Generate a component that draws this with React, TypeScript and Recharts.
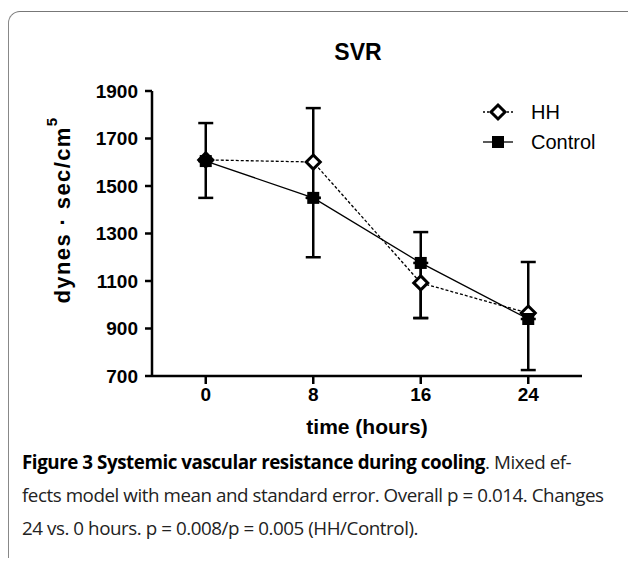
import { ErrorBar, Line, LineChart, XAxis, YAxis } from "recharts";

const hours = [0, 8, 16, 24];
const hhMean = [1610, 1601, 1092, 965];
// [below, above] as drawn in the figure
const hhErr = [[0, 155], [151, 227], [148, 214], [0, 215]];
const controlMean = [1605, 1450, 1176, 940];
const controlErr = [[155, 0], [250, 0], [232, 0], [215, 0]];
const xTicks = [0, 8, 16, 24];
const yTicks = [700, 900, 1100, 1300, 1500, 1700, 1900];

const data = hours.map((h, i) => ({
  h,
  hh: hhMean[i],
  hhErr: hhErr[i],
  control: controlMean[i],
  controlErr: controlErr[i],
}));

const FONT = '"Liberation Sans", Arial, sans-serif';

function Diamond(props: any) {
  const { cx, cy } = props;
  if (cx == null || cy == null) return null;
  const r = 7;
  return (
    <polygon
      points={`${cx},${cy - r} ${cx + r},${cy} ${cx},${cy + r} ${cx - r},${cy}`}
      fill="#fff"
      stroke="#000"
      strokeWidth={3}
    />
  );
}

function Square(props: any) {
  const { cx, cy } = props;
  if (cx == null || cy == null) return null;
  return <rect x={cx - 6} y={cy - 6} width={12} height={12} fill="#000" />;
}

function LegendBox() {
  const rows = [
    { name: "HH", dash: "2 2", icon: "diamond" },
    { name: "Control", dash: undefined, icon: "square" },
  ];
  return (
    <div style={{ fontFamily: FONT, fontSize: 20, color: "#000" }}>
      {rows.map((r) => (
        <div key={r.name} style={{ display: "flex", alignItems: "center", height: 30 }}>
          <svg width={32} height={20} style={{ marginRight: 17 }}>
            <line x1={1} y1={10} x2={31} y2={10} stroke="#000" strokeWidth={1.3} strokeDasharray={r.dash} />
            {r.icon === "diamond" ? (
              <polygon points="16,3 23,10 16,17 9,10" fill="#fff" stroke="#000" strokeWidth={3} />
            ) : (
              <rect x={10} y={4} width={12} height={12} fill="#000" />
            )}
          </svg>
          <span>{r.name}</span>
        </div>
      ))}
    </div>
  );
}

function YLabel() {
  const cx = 62;
  const cy = 210;
  return (
    <text
      x={cx}
      y={cy}
      transform={`rotate(-90, ${cx}, ${cy})`}
      textAnchor="middle"
      dominantBaseline="central"
      fontFamily={FONT}
      fontWeight="bold"
      fontSize={22}
      letterSpacing={1.4}
      fill="#000"
    >
      dynes · sec/cm
      <tspan dy={-11} fontSize={15}>5</tspan>
    </text>
  );
}

export default function App() {
  const tickStyle = { fill: "#000", fontSize: 19, fontWeight: "bold", fontFamily: FONT };
  return (
    <div
      style={{
        position: "absolute",
        left: 0,
        top: 0,
        width: 628,
        height: 562,
        background: "#fff",
        overflow: "hidden",
        fontFamily: FONT,
      }}
    >
      <div
        style={{
          position: "absolute",
          left: 8,
          top: 11,
          width: 640,
          height: 546,
          borderTop: "1.5px solid #777",
          borderLeft: "1.5px solid #888",
          borderTopLeftRadius: 12,
        }}
      />
      <div
        style={{
          position: "absolute",
          left: 258,
          top: 39,
          width: 200,
          textAlign: "center",
          fontSize: 23,
          fontWeight: "bold",
        }}
      >
        SVR
      </div>
      <div style={{ position: "absolute", left: 482, top: 97 }}>
        <LegendBox />
      </div>
      <div style={{ position: "absolute", left: 0, top: 0 }}>
        <LineChart
          width={628}
          height={562}
          data={data}
          margin={{ top: 91, right: 46, bottom: 126, left: 0 }}
        >
          <XAxis
            dataKey="h"
            type="number"
            domain={[-4, 28]}
            ticks={xTicks}
            allowDataOverflow
            axisLine={{ stroke: "#000", strokeWidth: 2.5 }}
            tickLine={{ stroke: "#000", strokeWidth: 2.5 }}
            tickSize={8}
            tickMargin={4}
            tick={tickStyle}
            height={60}
            label={{
              value: "time (hours)",
              position: "insideBottom",
              offset: 0,
              dy: -2,
              style: { fill: "#000", fontSize: 21, fontWeight: "bold", fontFamily: FONT },
            }}
          />
          <YAxis
            type="number"
            domain={[700, 1900]}
            ticks={yTicks}
            width={152}
            axisLine={{ stroke: "#000", strokeWidth: 2.5 }}
            tickLine={{ stroke: "#000", strokeWidth: 2.5 }}
            tickSize={7}
            tickMargin={7}
            tick={tickStyle}
            label={<YLabel />}
          />
          <Line
            dataKey="hh"
            name="HH"
            stroke="#000"
            strokeWidth={1.3}
            strokeDasharray="3 2"
            dot={<Diamond />}
            activeDot={false}
            isAnimationActive={false}
          >
            <ErrorBar dataKey="hhErr" width={7.5} stroke="#000" strokeWidth={2.5} direction="y" />
          </Line>
          <Line
            dataKey="control"
            name="Control"
            stroke="#000"
            strokeWidth={1.3}
            dot={<Square />}
            activeDot={false}
            isAnimationActive={false}
          >
            <ErrorBar dataKey="controlErr" width={7.5} stroke="#000" strokeWidth={2.5} direction="y" />
          </Line>
        </LineChart>
      </div>
      <div
        style={{
          position: "absolute",
          left: 22,
          top: 446,
          width: 610,
          fontFamily: '"Open Sans", sans-serif',
          fontSize: 18.8,
          lineHeight: "33px",
          color: "#222",
          whiteSpace: "nowrap",
          letterSpacing: -0.45,
        }}
      >
        <div>
          <b style={{ color: "#000" }}>Figure 3 Systemic vascular resistance during cooling</b>. Mixed ef-
        </div>
        <div>fects model with mean and standard error. Overall p = 0.014. Changes</div>
        <div>24 vs. 0 hours. p = 0.008/p = 0.005 (HH/Control).</div>
      </div>
    </div>
  );
}
